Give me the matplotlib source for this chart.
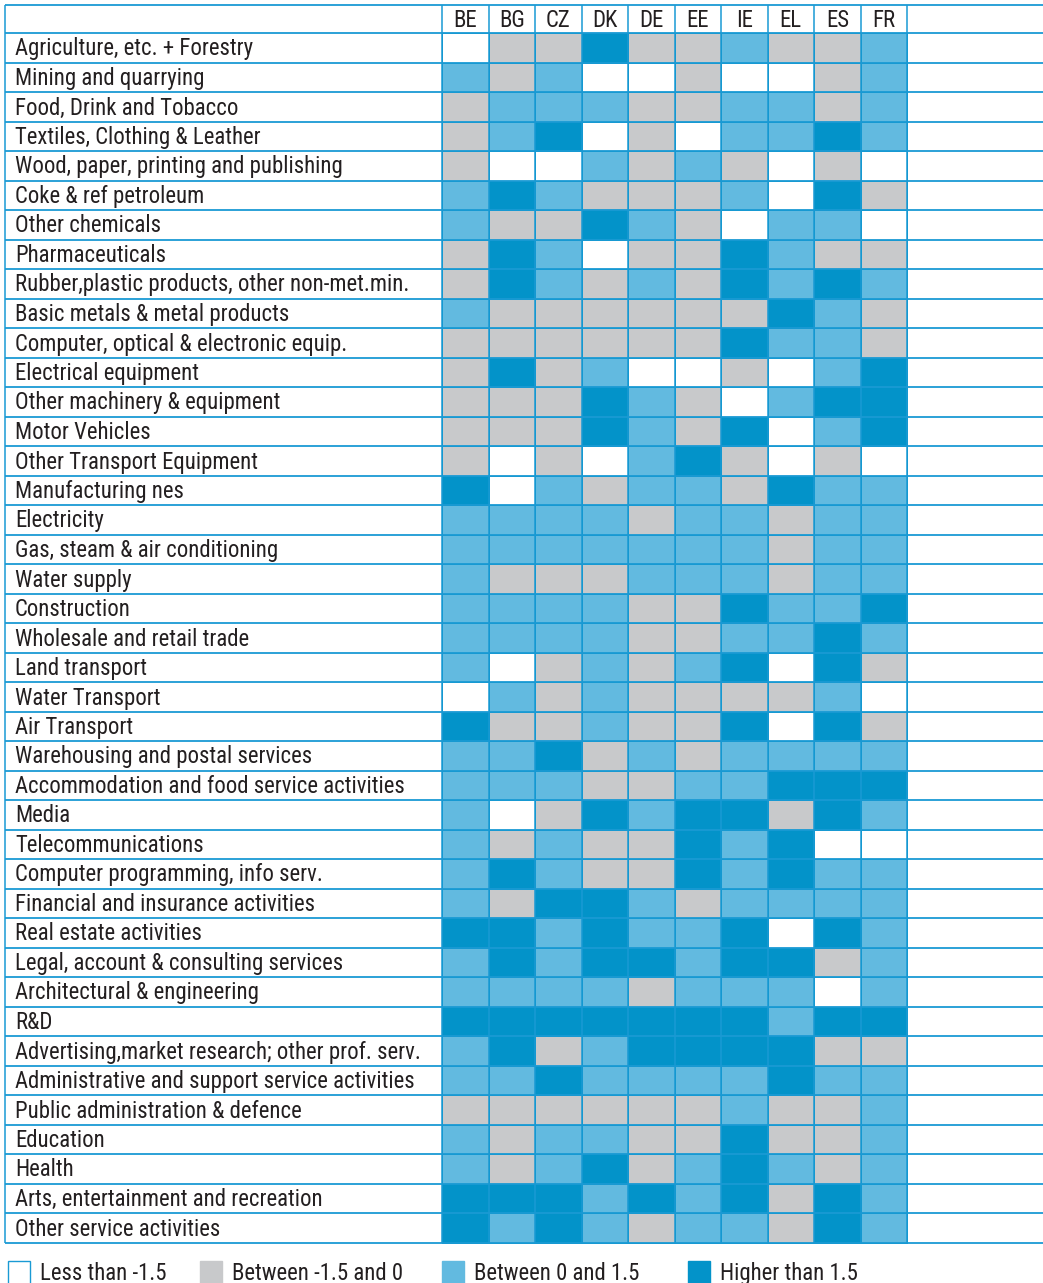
import numpy as np
import matplotlib
matplotlib.use("Agg")
import matplotlib.pyplot as plt
from matplotlib.colors import ListedColormap, BoundaryNorm
from matplotlib.patches import Rectangle

countries = ["BE", "BG", "CZ", "DK", "DE", "EE", "IE", "EL", "ES", "FR"]
sectors = [
    "Agriculture, etc. + Forestry",
    "Mining and quarrying",
    "Food, Drink and Tobacco",
    "Textiles, Clothing & Leather",
    "Wood, paper, printing and publishing",
    "Coke & ref petroleum",
    "Other chemicals",
    "Pharmaceuticals",
    "Rubber,plastic products, other non-met.min.",
    "Basic metals & metal products",
    "Computer, optical & electronic equip.",
    "Electrical equipment",
    "Other machinery & equipment",
    "Motor Vehicles",
    "Other Transport Equipment",
    "Manufacturing nes",
    "Electricity",
    "Gas, steam & air conditioning",
    "Water supply",
    "Construction",
    "Wholesale and retail trade",
    "Land transport",
    "Water Transport",
    "Air Transport",
    "Warehousing and postal services",
    "Accommodation and food service activities",
    "Media",
    "Telecommunications",
    "Computer programming, info serv.",
    "Financial and insurance activities",
    "Real estate activities",
    "Legal, account & consulting services",
    "Architectural & engineering",
    "R&D",
    "Advertising,market research; other prof. serv.",
    "Administrative and support service activities",
    "Public administration & defence",
    "Education",
    "Health",
    "Arts, entertainment and recreation",
    "Other service activities",
]
# 0: < -1.5, 1: -1.5..0, 2: 0..1.5, 3: > 1.5
classes = [
    [0, 1, 1, 3, 1, 1, 2, 1, 1, 2],
    [2, 1, 2, 0, 0, 1, 0, 0, 1, 2],
    [1, 2, 2, 2, 1, 1, 2, 2, 1, 2],
    [1, 2, 3, 0, 1, 0, 2, 2, 3, 2],
    [1, 0, 0, 2, 1, 2, 1, 0, 1, 0],
    [2, 3, 2, 1, 1, 1, 2, 0, 3, 1],
    [2, 1, 1, 3, 2, 1, 0, 2, 2, 0],
    [1, 3, 2, 0, 1, 1, 3, 2, 1, 1],
    [1, 3, 2, 1, 2, 1, 3, 2, 3, 2],
    [2, 1, 1, 1, 1, 1, 1, 3, 2, 1],
    [1, 1, 1, 1, 1, 1, 3, 2, 2, 1],
    [1, 3, 1, 2, 0, 0, 1, 0, 2, 3],
    [1, 1, 1, 3, 2, 1, 0, 2, 3, 3],
    [1, 1, 1, 3, 2, 1, 3, 0, 2, 3],
    [1, 0, 1, 0, 2, 3, 1, 0, 1, 0],
    [3, 0, 2, 1, 2, 2, 1, 3, 2, 2],
    [2, 2, 2, 2, 1, 2, 2, 1, 2, 2],
    [2, 2, 2, 2, 2, 2, 2, 1, 2, 2],
    [2, 1, 1, 1, 2, 2, 2, 1, 2, 2],
    [2, 2, 2, 2, 1, 1, 3, 2, 2, 3],
    [2, 2, 2, 2, 1, 1, 2, 2, 3, 2],
    [2, 0, 1, 2, 1, 2, 3, 0, 3, 1],
    [0, 2, 1, 2, 1, 1, 1, 1, 2, 0],
    [3, 1, 1, 2, 1, 1, 3, 0, 3, 1],
    [2, 2, 3, 1, 2, 1, 2, 2, 2, 2],
    [2, 2, 2, 1, 1, 2, 2, 3, 3, 3],
    [2, 0, 1, 3, 2, 3, 3, 1, 3, 2],
    [2, 1, 2, 1, 1, 3, 2, 3, 0, 0],
    [2, 3, 2, 1, 1, 3, 2, 3, 2, 2],
    [2, 1, 3, 3, 2, 1, 2, 2, 2, 2],
    [3, 3, 2, 3, 2, 2, 3, 0, 3, 2],
    [2, 3, 2, 3, 3, 2, 3, 3, 1, 2],
    [2, 2, 2, 2, 1, 2, 2, 2, 0, 2],
    [3, 3, 3, 3, 3, 3, 3, 2, 3, 3],
    [2, 3, 1, 2, 3, 3, 3, 3, 1, 1],
    [2, 2, 3, 2, 2, 2, 2, 3, 2, 2],
    [1, 1, 1, 1, 1, 1, 2, 1, 1, 2],
    [2, 1, 2, 2, 1, 1, 3, 1, 1, 2],
    [2, 1, 2, 3, 1, 2, 3, 2, 1, 2],
    [3, 3, 3, 2, 3, 2, 3, 1, 3, 2],
    [3, 2, 3, 2, 1, 2, 2, 1, 3, 2],
]
legend_labels = ["Less than -1.5", "Between -1.5 and 0", "Between 0 and 1.5", "Higher than 1.5"]

colors = ["#ffffff", "#c8c9cb", "#62bae0", "#0393c9"]
line_c = "#1a9ad4"
font = ["Roboto Condensed", "DejaVu Sans"]
fs = 16.4
txt_c = "#231f20"

W, H = 1043, 1283
fig = plt.figure(figsize=(W / 100, H / 100), dpi=100)
ax = fig.add_axes([0, 0, 1, 1])
ax.set_xlim(0, W)
ax.set_ylim(H, 0)
ax.axis("off")

# layout (pixels)
left, lab_right, cell_right = 5, 442, 907
top, head_bot = 5, 33
row_h = 29.5
n_rows, n_cols = len(sectors), len(countries)
xe = np.linspace(lab_right, cell_right, n_cols + 1)
ye = head_bot + row_h * np.arange(n_rows + 1)

data = np.array(classes)
cmap = ListedColormap(colors)
norm = BoundaryNorm([-0.5, 0.5, 1.5, 2.5, 3.5], 4)
ax.pcolormesh(xe, ye, data, cmap=cmap, norm=norm, edgecolors=colors[3],
              linewidth=0.6, zorder=1)

# horizontal lines
for y in np.concatenate([[top], ye]):
    ax.plot([left, W], [y, y], color=line_c, lw=1.3, zorder=3, solid_capstyle="butt")
# vertical lines
for x in np.concatenate([[left], xe]):
    ax.plot([x, x], [top, ye[-1]], color=line_c, lw=1.1, zorder=3, solid_capstyle="butt")

# header
for j, c in enumerate(countries):
    ax.text((xe[j] + xe[j + 1]) / 2, top + 22, c, ha="center", va="baseline",
            fontsize=fs, family=font, color=txt_c, zorder=4)
# row labels
for i, s in enumerate(sectors):
    ax.text(15, ye[i] + 22.5, s, ha="left", va="baseline",
            fontsize=fs, family=font, color=txt_c, zorder=4)

# legend
leg_x = [8, 200, 442, 688]
for k, (lx, lab) in enumerate(zip(leg_x, legend_labels)):
    ax.add_patch(Rectangle((lx, 1261), 22, 24, facecolor=colors[k],
                           edgecolor=line_c if k == 0 else colors[k], lw=1, zorder=4))
    ax.text(lx + 32, 1280, lab, ha="left", va="baseline", fontsize=fs, family=font,
            color=txt_c, zorder=4)

fig.savefig("out.png", dpi=100)
